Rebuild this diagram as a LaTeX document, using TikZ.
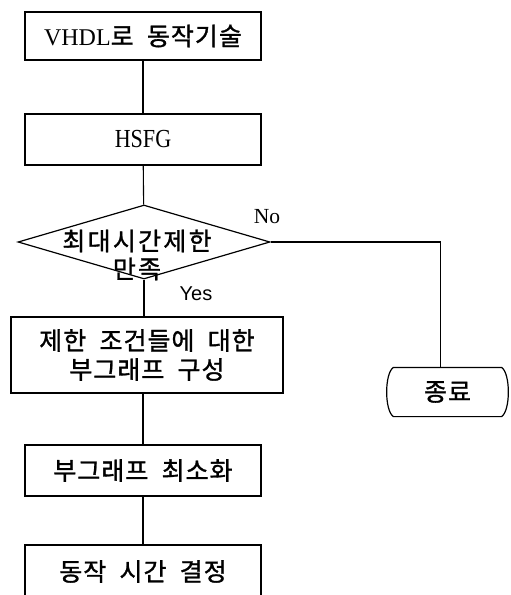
\documentclass[tikz,border=0pt]{standalone}
\usepackage{fontspec}
\setmainfont{Liberation Serif}
\newfontfamily\krfam{Noto Sans CJK KR}[LetterSpace=4,WordSpace=2.0,FakeBold=1.2]
\newfontfamily\krwide{Noto Sans CJK KR}[LetterSpace=9,FakeBold=1.2]
\newfontfamily\sansfam{Liberation Sans}
\newfontfamily\serfam{Liberation Serif}
\newfontfamily\condfam{Liberation Serif}[FakeStretch=0.85]
\usetikzlibrary{shapes.geometric}
\newcommand\krf{\krfam\fontsize{25pt}{29pt}\selectfont}
\begin{document}
\begin{tikzpicture}[x=1pt,y=-1pt,line width=1.2pt,
  stepbox/.style={draw,rectangle,inner sep=0pt,minimum width=236pt,minimum height=51pt,font=\krf,align=center},
  decision/.style={draw,diamond,inner sep=0pt,minimum width=252pt,minimum height=74pt},
  conn/.style={line width=1.1pt},
  lab/.style={inner sep=0pt}]
\useasboundingbox (0,0) rectangle (511,595);
\node[stepbox,minimum height=48pt] (b1) at (143,36) {{\serfam\fontsize{24pt}{29pt}\selectfont VHDL}로 동작기술};
\node[stepbox] (b2) at (143,139.5) {{\condfam\fontsize{26pt}{29pt}\selectfont HSFG}};
\node[decision] (dia) at (144,242) {};
\node[lab,font=\krwide\fontsize{25pt}{28pt}\selectfont,align=center] (diat) at (137,255) {최대시간제한\\만족};
\node[stepbox,minimum width=272pt,minimum height=76pt] (b3) at (147,355) {제한 조건들에 대한\\부그래프 구성};
\node[stepbox] (b4) at (143,470.5) {부그래프 최소화};
\node[stepbox,minimum height=53pt] (b5) at (143,571.5) {동작 시간 결정};
\node[inner sep=0pt,minimum width=121pt,minimum height=48pt,font=\krf] (end) at (447.5,392) {종료};
\draw ([xshift=7pt]end.north west) -- ([xshift=-7pt]end.north east)
  .. controls ([xshift=2pt,yshift=-6pt]end.north east) and ([xshift=2pt,yshift=6pt]end.south east) .. ([xshift=-7pt]end.south east)
  -- ([xshift=7pt]end.south west)
  .. controls ([xshift=-2pt,yshift=6pt]end.south west) and ([xshift=-2pt,yshift=-6pt]end.north west) .. ([xshift=7pt]end.north west) -- cycle;
\node[lab,font=\serfam\fontsize{21.5pt}{24pt}\selectfont] (no) at (267,217) {No};
\node[lab,font=\sansfam\fontsize{20pt}{24pt}\selectfont] (yes) at (196,294) {Yes};
\draw[conn] (b1) -- (b2);
\draw[conn] (b2) -- (dia);
\draw[conn] (dia.south) -- (dia.south |- b3.north);
\draw[conn] (b3.south -| b4.north) -- (b4.north);
\draw[conn] (b4) -- (b5);
\draw[conn] (dia.east) -| ([xshift=-7pt]end.north);
\end{tikzpicture}
\end{document}
